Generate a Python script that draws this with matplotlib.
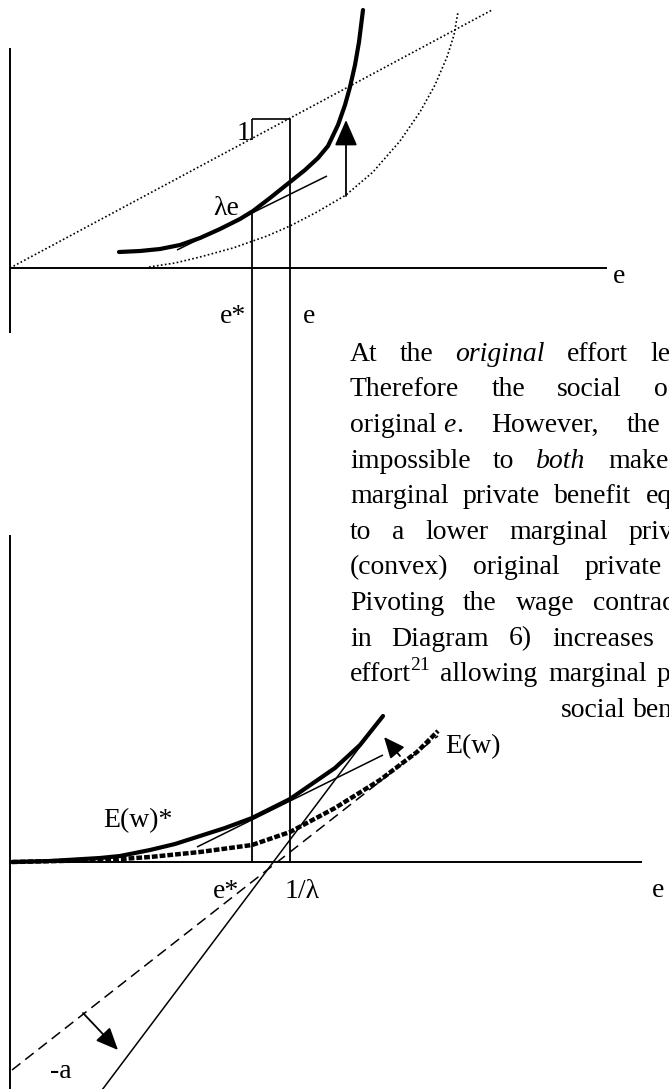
import matplotlib
matplotlib.use('Agg')
import matplotlib.pyplot as plt
from matplotlib.patches import ConnectionPatch

plt.rcParams['font.family'] = ['Liberation Serif', 'DejaVu Serif']
FS = 20

# ---- upper panel: marginal cost and benefit of effort ----
e_star = 2.42        # social optimum e*
e_hat = 2.80         # original effort level e
unit_mb = 1.49       # marginal social benefit = 1
lam_e_y = 0.57       # height of the tangent point (lambda e)

mc_x = [1.09, 1.30, 1.50, 1.70, 1.90, 2.10, 2.30, 2.43, 2.60, 2.80,
        2.95, 3.08, 3.18, 3.28, 3.35, 3.40, 3.45, 3.49, 3.53]
mc_y = [0.16, 0.17, 0.19, 0.23, 0.30, 0.39, 0.49, 0.57, 0.70, 0.86,
        0.98, 1.10, 1.22, 1.43, 1.63, 1.81, 2.03, 2.26, 2.58]

old_x = [1.39, 1.65, 1.90, 2.23, 2.57, 2.80, 3.07, 3.36, 3.63, 3.90,
         4.10, 4.25, 4.37, 4.44, 4.48]
old_y = [0.01, 0.05, 0.11, 0.20, 0.32, 0.42, 0.56, 0.73, 0.96, 1.27,
         1.56, 1.83, 2.11, 2.33, 2.56]

tan_top_x = [1.67, 3.17]
tan_top_y = [0.18, 0.92]
msb_x = [0.0, 4.82]
msb_y = [0.0, 2.58]
shift_x = 3.36
shift_y = [0.72, 1.48]

# ---- lower panel: effort as a function of the wage ----
ews_x = [0.02, 0.40, 0.90, 1.10, 1.40, 1.65, 1.90, 2.15, 2.42, 2.80,
         3.25, 3.50, 3.73]
ews_y = [0.00, 0.01, 0.04, 0.06, 0.12, 0.18, 0.26, 0.34, 0.44, 0.63,
         0.94, 1.17, 1.46]

ew_x = [0.02, 0.50, 0.97, 1.40, 1.90, 2.42, 2.80, 3.25, 3.70, 4.07, 4.28]
ew_y = [0.00, 0.01, 0.02, 0.05, 0.10, 0.17, 0.30, 0.54, 0.82, 1.10, 1.31]

wage_old_x = [0.02, 4.28]
wage_old_y = [-2.08, 1.26]
wage_new_x = [0.83, 3.73]
wage_new_y = [-2.40, 1.46]
tan_low_x = [1.87, 3.73]
tan_low_y = [0.15, 1.07]
pivot_tail = (3.90, 1.06)
pivot_tip = (3.74, 1.25)
drop_tail = (0.73, -1.51)
drop_tip = (1.08, -1.88)

# (text, left edge, start of last word or None for plain spacing)
paragraph = [
    ("At the _original_ effort le", 350, 650),
    ("Therefore the social o", 350, 654),
    ("original~_e_. However, the", 350, 627),
    ("impossible to _both_ make", 350, 608),
    ("marginal private benefit eq", 350, 646),
    ("to a lower marginal priv", 350, 629),
    ("(convex) original private", 350, 585),
    ("Pivoting the wage contrac", 350, 593),
    ("in Diagram 6) increases", 350, 552),
    ("effort^21 allowing marginal p", 350, 657),
    ("social ben", 561, None),
]

fig = plt.figure(figsize=(6.69, 10.89), dpi=100)

ax_top = fig.add_axes([0, 0, 1, 1])
ax_top.set_xlim(-0.10, 6.59)
ax_top.set_ylim(-8.21, 2.68)
ax_top.axis('off')

ax_low = fig.add_axes([0, 0, 1, 1], label='lower')
ax_low.set_xlim(-0.10, 6.59)
ax_low.set_ylim(-2.27, 8.62)
ax_low.axis('off')

ax_txt = fig.add_axes([0, 0, 1, 1], label='text')
ax_txt.set_xlim(0, 669)
ax_txt.set_ylim(1089, 0)
ax_txt.axis('off')

k = dict(color='black', solid_capstyle='butt')
dots = (0, (1, 1.4))

# upper axes
ax_top.plot([0, 5.97], [0, 0], lw=1.4, **k)
ax_top.plot([0, 0], [-0.65, 2.20], lw=1.4, **k)
ax_top.plot(msb_x, msb_y, lw=1.2, ls=dots, color='black')
ax_top.plot(old_x, old_y, lw=1.2, ls=dots, color='black')
ax_top.plot(tan_top_x, tan_top_y, lw=1.1, **k)
ax_top.plot(mc_x, mc_y, lw=3.0, color='black', solid_capstyle='round',
            solid_joinstyle='round')
ax_top.plot([e_star, e_hat], [unit_mb, unit_mb], lw=1.2, **k)
ax_top.plot([e_star, e_star], [unit_mb - 0.21, unit_mb], lw=1.2, **k)
ax_top.annotate('', xy=(shift_x, shift_y[1]), xytext=(shift_x, shift_y[0]),
                arrowprops=dict(arrowstyle='-|>,head_length=0.8,head_width=0.35',
                                mutation_scale=20, lw=1.3, color='black',
                                shrinkA=0, shrinkB=0))

ax_top.text(2.27, 1.28, '1', fontsize=FS, va='baseline')
ax_top.text(2.03, 0.53, 'λe', fontsize=FS, va='baseline')
ax_top.text(6.03, -0.15, 'e', fontsize=FS, va='baseline')
ax_top.text(2.10, -0.55, 'e*', fontsize=FS, va='baseline')
ax_top.text(2.93, -0.55, 'e', fontsize=FS, va='baseline')

# vertical guides running down into the lower panel
for x0, y0 in [(e_star, lam_e_y), (e_hat, unit_mb)]:
    con = ConnectionPatch(xyA=(x0, y0), coordsA=ax_top.transData,
                          xyB=(x0, 0), coordsB=ax_low.transData,
                          color='black', lw=1.3)
    fig.add_artist(con)

# lower axes
ax_low.plot([0, 6.32], [0, 0], lw=1.4, **k)
ax_low.plot([0, 0], [-2.40, 3.27], lw=1.4, **k)
ax_low.plot(wage_old_x, wage_old_y, lw=1.1, ls=(0, (7, 4)), color='black')
ax_low.plot(wage_new_x, wage_new_y, lw=1.1, **k)
ax_low.plot(tan_low_x, tan_low_y, lw=1.1, **k)
ax_low.plot(ew_x, ew_y, lw=3.2, ls=(0, (1.3, 0.45)), color='black')
ax_low.plot(ews_x, ews_y, lw=3.0, color='black', solid_capstyle='round',
            solid_joinstyle='round')
for tail, tip, ms in [(pivot_tail, pivot_tip, 16), (drop_tail, drop_tip, 17)]:
    ax_low.annotate('', xy=tip, xytext=tail,
                    arrowprops=dict(arrowstyle='-|>,head_length=0.8,head_width=0.35',
                                    mutation_scale=ms, lw=1.3, color='black',
                                    shrinkA=0, shrinkB=0))

ax_low.text(0.93, 0.35, 'E(w)*', fontsize=FS, va='baseline')
ax_low.text(4.35, 1.09, 'E(w)', fontsize=FS, va='baseline')
ax_low.text(2.03, -0.36, 'e*', fontsize=FS, va='baseline')
ax_low.text(2.75, -0.36, '1/λ', fontsize=FS, va='baseline')
ax_low.text(6.42, -0.35, 'e', fontsize=FS, va='baseline')
ax_low.text(0.40, -2.16, '-a', fontsize=FS, va='baseline')


def runs_of(word):
    base, _, sup = word.partition('^')
    out = []
    for i, piece in enumerate(base.split('_')):
        if piece:
            out.append((piece.replace('~', ' '), 'italic' if i % 2 else 'normal', False))
    if sup:
        out.append((sup, 'normal', True))
    return out


# justified paragraph, cut off at the right edge of the page
renderer = fig.canvas.get_renderer()
probe = ax_txt.text(0, 0, 'a a', fontsize=FS)
w_spaced = probe.get_window_extent(renderer).width
probe.set_text('aa')
space = w_spaced - probe.get_window_extent(renderer).width
probe.remove()

for row, (line, x0, x_last) in enumerate(paragraph):
    y = 360.7 + row * 35.6
    groups = []
    for word in line.split(' '):
        items = []
        for piece, style, sup in runs_of(word):
            t = ax_txt.text(0, y - 11 if sup else y, piece,
                            fontsize=14 if sup else FS, style=style,
                            va='baseline', ha='left')
            items.append((t, -1 if sup else 0))
        groups.append(items)
    widths = [sum(t.get_window_extent(renderer).width + pad for t, pad in g)
              for g in groups]
    if x_last is None:
        gap = space
    else:
        gap = (x_last - x0 - sum(widths[:-1])) / max(len(groups) - 1, 1)
    x = x0
    for g, wd in zip(groups, widths):
        xx = x
        for t, pad in g:
            xx += pad
            t.set_x(xx)
            xx += t.get_window_extent(renderer).width
        x += wd + gap

fig.savefig('out.png', dpi=100)
